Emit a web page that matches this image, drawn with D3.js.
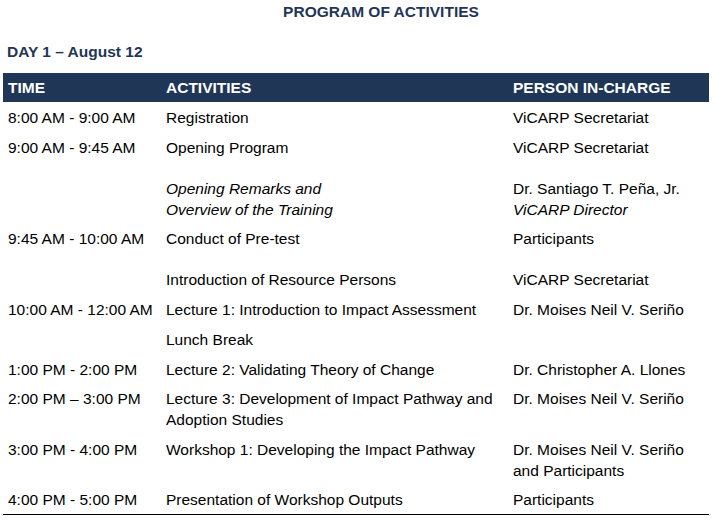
<!DOCTYPE html>
<html><head><meta charset="utf-8">
<script src="https://cdn.jsdelivr.net/npm/d3@7"></script>
<style>body{margin:0;background:#fff}svg{font-family:"Liberation Sans",Arial,sans-serif}</style>
</head><body>
<script>
// table content
var times = ["8:00 AM - 9:00 AM", "9:00 AM - 9:45 AM", "", "9:45 AM - 10:00 AM", "", "10:00 AM - 12:00 AM", "", "1:00 PM - 2:00 PM", "2:00 PM \u2013 3:00 PM", "3:00 PM - 4:00 PM", "4:00 PM - 5:00 PM"];
var activities = [["Registration"], ["Opening Program"], ["*Opening Remarks and", "*Overview of the Training"], ["Conduct of Pre-test"], ["Introduction of Resource Persons"], ["Lecture 1: Introduction to Impact Assessment"], ["Lunch Break"], ["Lecture 2: Validating Theory of Change"], ["Lecture 3: Development of Impact Pathway and", "Adoption Studies"], ["Workshop 1: Developing the Impact Pathway"], ["Presentation of Workshop Outputs"]];
var persons = [["ViCARP Secretariat"], ["ViCARP Secretariat"], ["Dr. Santiago T. Pe\u00f1a, Jr.", "*ViCARP Director"], ["Participants"], ["ViCARP Secretariat"], ["Dr. Moises Neil V. Seri\u00f1o"], [""], ["Dr. Christopher A. Llones"], ["Dr. Moises Neil V. Seri\u00f1o"], ["Dr. Moises Neil V. Seri\u00f1o", "and Participants"], ["Participants"]];
var headers = ["TIME", "ACTIVITIES", "PERSON IN-CHARGE"];

// layout
var rowY = [117, 147, 188, 238, 279, 309, 339, 369, 398, 449, 499];
var colX = [8, 166, 513];
var lineH = 21;
var fs = 15.5;
var navy = "#1f3657";

var svg = d3.select("body").append("svg").attr("width", 717).attr("height", 522);

svg.append("text").attr("x", 381).attr("y", 17).attr("text-anchor", "middle")
  .attr("font-size", fs).attr("font-weight", "bold").attr("fill", navy).text("PROGRAM OF ACTIVITIES");
svg.append("text").attr("x", 7).attr("y", 57)
  .attr("font-size", fs).attr("font-weight", "bold").attr("fill", navy).text("DAY 1 \u2013 August 12");

svg.append("rect").attr("x", 3).attr("y", 73).attr("width", 706).attr("height", 29).attr("fill", navy);
svg.selectAll("text.h").data(headers).join("text").attr("class", "h")
  .attr("x", function (d, i) { return colX[i]; }).attr("y", 93)
  .attr("font-size", fs).attr("font-weight", "bold").attr("fill", "#fff").text(function (d) { return d; });

function drawCol(cells, ci) {
  cells.forEach(function (lines, r) {
    lines.forEach(function (t, k) {
      var it = t.charAt(0) === "*";
      svg.append("text").attr("x", colX[ci]).attr("y", rowY[r] + 5.5 + k * lineH)
        .attr("font-size", fs).attr("fill", "#000")
        .attr("font-style", it ? "italic" : "normal")
        .text(it ? t.slice(1) : t);
    });
  });
}
drawCol(times.map(function (t) { return [t]; }), 0);
drawCol(activities, 1);
drawCol(persons, 2);

svg.append("line").attr("x1", 3).attr("x2", 709).attr("y1", 514.5).attr("y2", 514.5)
  .attr("stroke", "#000").attr("stroke-width", 1);
</script>
</body></html>
